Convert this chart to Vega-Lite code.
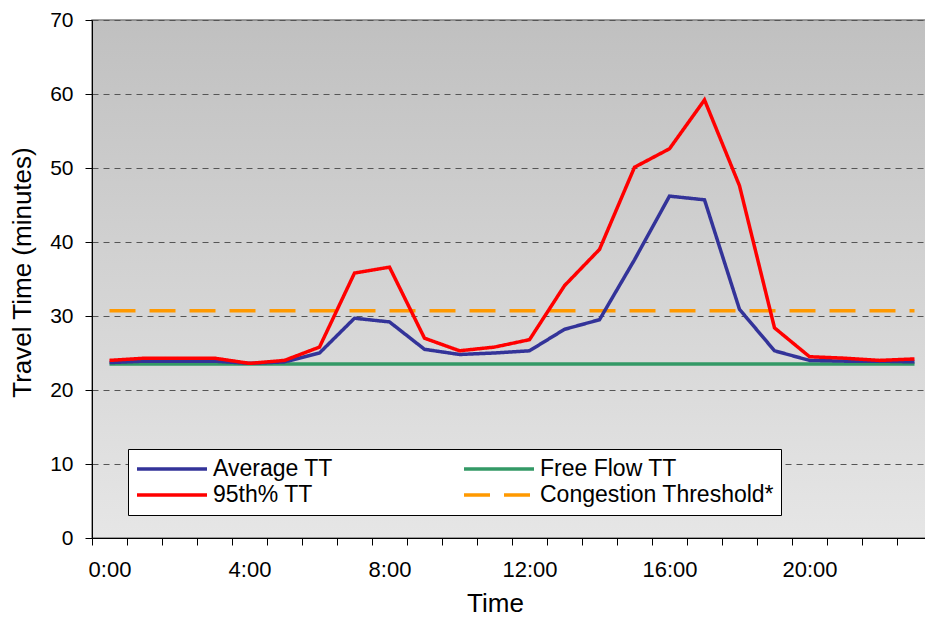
{
  "$schema": "https://vega.github.io/schema/vega-lite/v6.json",
  "width": 840,
  "height": 518,
  "autosize": "none",
  "padding": {"left": 92, "top": 20, "right": -7, "bottom": 82},
  "config": {
    "font": "Liberation Sans",
    "view": {
      "stroke": "#808080",
      "strokeWidth": 1.5,
      "fill": {
        "gradient": "linear",
        "x1": 0, "y1": 0, "x2": 0, "y2": 1,
        "stops": [
          {"offset": 0, "color": "#c0c0c0"},
          {"offset": 1, "color": "#e6e6e6"}
        ]
      }
    },
    "axis": {
      "labelColor": "black",
      "titleColor": "black",
      "domainColor": "black",
      "tickColor": "black",
      "tickSize": 7,
      "labelFontSize": 21,
      "titleFontSize": 26,
      "titleFontWeight": "normal"
    }
  },
  "data": {
    "values": [
      {"Hour": 0, "Average TT": 23.7, "95th% TT": 24.0, "Free Flow TT": 23.5, "Congestion Threshold*": 30.7},
      {"Hour": 1, "Average TT": 23.9, "95th% TT": 24.3, "Free Flow TT": 23.5, "Congestion Threshold*": 30.7},
      {"Hour": 2, "Average TT": 23.9, "95th% TT": 24.3, "Free Flow TT": 23.5, "Congestion Threshold*": 30.7},
      {"Hour": 3, "Average TT": 23.9, "95th% TT": 24.3, "Free Flow TT": 23.5, "Congestion Threshold*": 30.7},
      {"Hour": 4, "Average TT": 23.6, "95th% TT": 23.6, "Free Flow TT": 23.5, "Congestion Threshold*": 30.7},
      {"Hour": 5, "Average TT": 23.8, "95th% TT": 24.0, "Free Flow TT": 23.5, "Congestion Threshold*": 30.7},
      {"Hour": 6, "Average TT": 25.0, "95th% TT": 25.8, "Free Flow TT": 23.5, "Congestion Threshold*": 30.7},
      {"Hour": 7, "Average TT": 29.7, "95th% TT": 35.8, "Free Flow TT": 23.5, "Congestion Threshold*": 30.7},
      {"Hour": 8, "Average TT": 29.2, "95th% TT": 36.6, "Free Flow TT": 23.5, "Congestion Threshold*": 30.7},
      {"Hour": 9, "Average TT": 25.5, "95th% TT": 27.0, "Free Flow TT": 23.5, "Congestion Threshold*": 30.7},
      {"Hour": 10, "Average TT": 24.8, "95th% TT": 25.3, "Free Flow TT": 23.5, "Congestion Threshold*": 30.7},
      {"Hour": 11, "Average TT": 25.0, "95th% TT": 25.8, "Free Flow TT": 23.5, "Congestion Threshold*": 30.7},
      {"Hour": 12, "Average TT": 25.3, "95th% TT": 26.8, "Free Flow TT": 23.5, "Congestion Threshold*": 30.7},
      {"Hour": 13, "Average TT": 28.2, "95th% TT": 34.1, "Free Flow TT": 23.5, "Congestion Threshold*": 30.7},
      {"Hour": 14, "Average TT": 29.5, "95th% TT": 39.0, "Free Flow TT": 23.5, "Congestion Threshold*": 30.7},
      {"Hour": 15, "Average TT": 37.6, "95th% TT": 50.1, "Free Flow TT": 23.5, "Congestion Threshold*": 30.7},
      {"Hour": 16, "Average TT": 46.2, "95th% TT": 52.6, "Free Flow TT": 23.5, "Congestion Threshold*": 30.7},
      {"Hour": 17, "Average TT": 45.7, "95th% TT": 59.2, "Free Flow TT": 23.5, "Congestion Threshold*": 30.7},
      {"Hour": 18, "Average TT": 30.9, "95th% TT": 47.6, "Free Flow TT": 23.5, "Congestion Threshold*": 30.7},
      {"Hour": 19, "Average TT": 25.3, "95th% TT": 28.4, "Free Flow TT": 23.5, "Congestion Threshold*": 30.7},
      {"Hour": 20, "Average TT": 24.0, "95th% TT": 24.5, "Free Flow TT": 23.5, "Congestion Threshold*": 30.7},
      {"Hour": 21, "Average TT": 23.9, "95th% TT": 24.3, "Free Flow TT": 23.5, "Congestion Threshold*": 30.7},
      {"Hour": 22, "Average TT": 23.9, "95th% TT": 24.0, "Free Flow TT": 23.5, "Congestion Threshold*": 30.7},
      {"Hour": 23, "Average TT": 23.8, "95th% TT": 24.2, "Free Flow TT": 23.5, "Congestion Threshold*": 30.7}
    ]
  },
  "transform": [
    {"fold": ["Free Flow TT", "Congestion Threshold*", "Average TT", "95th% TT"], "as": ["Series", "TT"]}
  ],
  "mark": {"type": "line", "strokeWidth": 3.5},
  "encoding": {
    "x": {
      "field": "Hour",
      "type": "ordinal",
      "title": "Time",
      "scale": {"type": "band", "paddingInner": 0, "paddingOuter": 0},
      "axis": {
        "labelExpr": "datum.value % 4 == 0 ? datum.value + ':00' : ''",
        "labelAngle": 0,
        "labelFontSize": 22,
        "labelDx": -3,
        "tickBand": "extent",
        "labelPadding": 14,
        "titlePadding": 10,
        "titleX": 403,
        "grid": false
      }
    },
    "y": {
      "field": "TT",
      "type": "quantitative",
      "title": "Travel Time (minutes)",
      "scale": {"domain": [0, 70]},
      "axis": {
        "values": [0, 10, 20, 30, 40, 50, 60, 70],
        "gridDash": [6, 5],
        "gridColor": "#555555",
        "gridWidth": 1,
        "labelPadding": 12,
        "titlePadding": 14,
        "titleY": 252
      }
    },
    "color": {
      "field": "Series",
      "type": "nominal",
      "title": null,
      "scale": {
        "domain": ["Average TT", "95th% TT", "Free Flow TT", "Congestion Threshold*"],
        "range": ["#333399", "#ff0000", "#339966", "#ff9900"]
      },
      "legend": {
        "orient": "none",
        "legendX": 36,
        "legendY": 429,
        "columns": 2,
        "symbolType": "stroke",
        "symbolSize": 4900,
        "symbolStrokeWidth": 3.5,
        "clipHeight": 26,
        "rowPadding": 0,
        "columnPadding": 129,
        "labelOffset": 4,
        "labelFontSize": 23,
        "labelColor": "black",
        "labelLimit": 0,
        "fillColor": "white",
        "strokeColor": "black",
        "padding": 7
      }
    },
    "strokeDash": {
      "field": "Series",
      "type": "nominal",
      "title": null,
      "scale": {
        "domain": ["Average TT", "95th% TT", "Free Flow TT", "Congestion Threshold*"],
        "range": [[1, 0], [1, 0], [1, 0], [26, 14]]
      }
    }
  }
}
